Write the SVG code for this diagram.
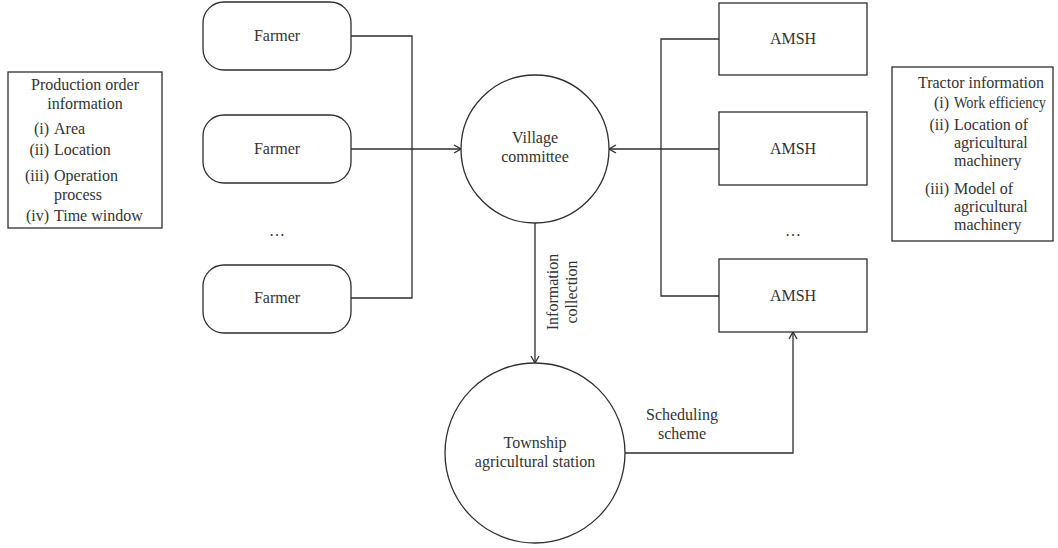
<svg xmlns="http://www.w3.org/2000/svg" width="1058" height="548" viewBox="0 0 1058 548">
<style>
text{font-family:"Liberation Serif","Times New Roman",serif;font-size:16px;fill:#333}
.c{text-anchor:middle}
.e{text-anchor:end}
.shape{fill:#fff;stroke:#2e2e2e;stroke-width:1.3}
.conn{fill:none;stroke:#2e2e2e;stroke-width:1.3}
</style>
<defs>
<marker id="arr" viewBox="0 0 10 10" refX="9" refY="5" markerWidth="10" markerHeight="10" markerUnits="userSpaceOnUse" orient="auto">
<path d="M2,1 L9,5 L2,9" fill="none" stroke="#2e2e2e" stroke-width="1.3"/>
</marker>
</defs>
<g id="connectors">
<path class="conn" d="M351,36 H412 V298 H351"/>
<path class="conn" d="M351,149 H461" marker-end="url(#arr)"/>
<path class="conn" d="M719,39 H661 V296 H719"/>
<path class="conn" d="M719,149 H609" marker-end="url(#arr)"/>
<path class="conn" d="M535,223 V363" marker-end="url(#arr)"/>
<path class="conn" d="M625,453 H793 V332" marker-end="url(#arr)"/>
<text transform="translate(558,292) rotate(-90)" class="c">Information</text>
<text transform="translate(577,292) rotate(-90)" class="c">collection</text>
<text x="682" y="420" class="c">Scheduling</text>
<text x="682" y="439" class="c">scheme</text>
</g>
<g id="production-info">
<rect class="shape" x="8" y="72" width="154" height="156"/>
<text x="85" y="90" class="c">Production order</text>
<text x="85" y="109" class="c">information</text>
<text x="49" y="134" class="e">(i)</text><text x="54" y="134">Area</text>
<text x="49" y="155" class="e">(ii)</text><text x="54" y="155">Location</text>
<text x="49" y="181" class="e">(iii)</text><text x="54" y="181">Operation</text>
<text x="54" y="200">process</text>
<text x="49" y="221" class="e">(iv)</text><text x="54" y="221">Time window</text>
</g>
<g id="farmer1"><rect class="shape" x="203" y="2" width="148" height="68" rx="21"/><text x="277" y="41" class="c">Farmer</text></g>
<g id="farmer2"><rect class="shape" x="203" y="115" width="148" height="68" rx="21"/><text x="277" y="154" class="c">Farmer</text></g>
<g id="farmer-dots"><text x="277" y="236" class="c">…</text></g>
<g id="farmer3"><rect class="shape" x="203" y="265" width="148" height="68" rx="21"/><text x="277" y="303" class="c">Farmer</text></g>
<g id="village"><circle class="shape" cx="535" cy="149" r="74"/><text x="535" y="143" class="c">Village</text><text x="535" y="162" class="c">committee</text></g>
<g id="township"><circle class="shape" cx="535" cy="453" r="90"/><text x="535" y="448" class="c">Township</text><text x="535" y="467" class="c">agricultural station</text></g>
<g id="amsh1"><rect class="shape" x="719" y="3" width="148" height="72"/><text x="793" y="44" class="c">AMSH</text></g>
<g id="amsh2"><rect class="shape" x="719" y="112" width="148" height="73"/><text x="793" y="154" class="c">AMSH</text></g>
<g id="amsh-dots"><text x="793" y="236" class="c">…</text></g>
<g id="amsh3"><rect class="shape" x="719" y="259" width="148" height="73"/><text x="793" y="301" class="c">AMSH</text></g>
<g id="tractor-info">
<rect class="shape" x="892" y="67" width="161" height="174"/>
<text x="981" y="88" class="c">Tractor information</text>
<text x="949" y="108" class="e">(i)</text><text x="954" y="108" textLength="92" lengthAdjust="spacingAndGlyphs">Work efficiency</text>
<text x="949" y="130" class="e">(ii)</text><text x="954" y="130">Location of</text>
<text x="954" y="148">agricultural</text>
<text x="954" y="166">machinery</text>
<text x="949" y="194" class="e">(iii)</text><text x="954" y="194">Model of</text>
<text x="954" y="212">agricultural</text>
<text x="954" y="230">machinery</text>
</g>
</svg>
